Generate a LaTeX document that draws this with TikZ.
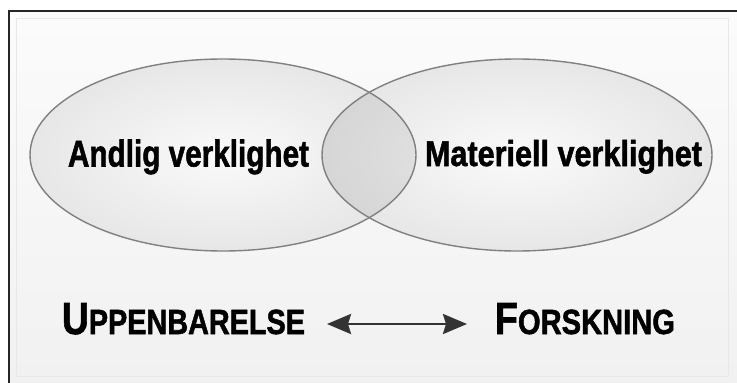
\documentclass[tikz,border=0pt]{standalone}
\usepackage{fontspec}
\setmainfont{Liberation Sans}
\newfontfamily\heavy[FakeBold=1.6]{Liberation Sans Bold}
\usepackage{graphicx}
\usetikzlibrary{shapes.geometric,arrows.meta}
\begin{document}
\begin{tikzpicture}[x=1pt,y=-1pt,
  vennfill/.style={ellipse, inner sep=0pt, minimum height=192pt,
     shade, inner color=gray!4, outer color=gray!19},
  vennline/.style={draw=black!50, line width=1.4pt},
  label/.style={anchor=base, inner sep=0pt, text=black},
  biarrow/.style={line width=2.6pt, draw=black!80,
     {Stealth[length=24pt,width=20pt,inset=3pt]}-{Stealth[length=24pt,width=20pt,inset=3pt]}}]
  % canvas
  \useasboundingbox (0,0) rectangle (737,383);
  \fill[white] (0,0) rectangle (737,383);
  \shade[top color=gray!3, bottom color=gray!11] (9,11) rectangle (737,383);
  \draw[gray!18, line width=1pt] (16,18) rectangle (728,376);
  \draw[black!85, line width=2.6pt] (9,383) -- (9,11) -- (737,11);
  % ellipses
  \node[vennfill, minimum width=386pt] (L) at (223,155) {};
  \node[vennfill, minimum width=390pt] (R) at (517,155) {};
  \begin{scope}
    \clip (L.center) ellipse [x radius=193pt, y radius=96pt];
    \fill[black, opacity=0.07] (R.center) ellipse [x radius=195pt, y radius=96pt];
  \end{scope}
  \draw[vennline] (L.center) ellipse [x radius=193pt, y radius=96pt];
  \draw[vennline] (R.center) ellipse [x radius=195pt, y radius=96pt];
  % texts
  \node[label] (tA) at (188.5,166.5) {\resizebox{241pt}{27pt}{\heavy Andlig verklighet}};
  \node[label] (tM) at (563.5,166) {\resizebox{277pt}{26pt}{\heavy Materiell verklighet}};
  \node[label] (tU) at (183.5,334) {\resizebox{243pt}{31pt}{\heavy{\fontsize{40}{40}\selectfont U}{\fontsize{31}{31}\selectfont PPENBARELSE}}};
  \node[label] (tF) at (585,334) {\resizebox{180pt}{31pt}{\heavy{\fontsize{40}{40}\selectfont F}{\fontsize{31}{31}\selectfont ORSKNING}}};
  % arrow
  \coordinate (aL) at (327,324);
  \coordinate (aR) at (467,324);
  \draw[biarrow] (aL) -- (aR);
\end{tikzpicture}
\end{document}
